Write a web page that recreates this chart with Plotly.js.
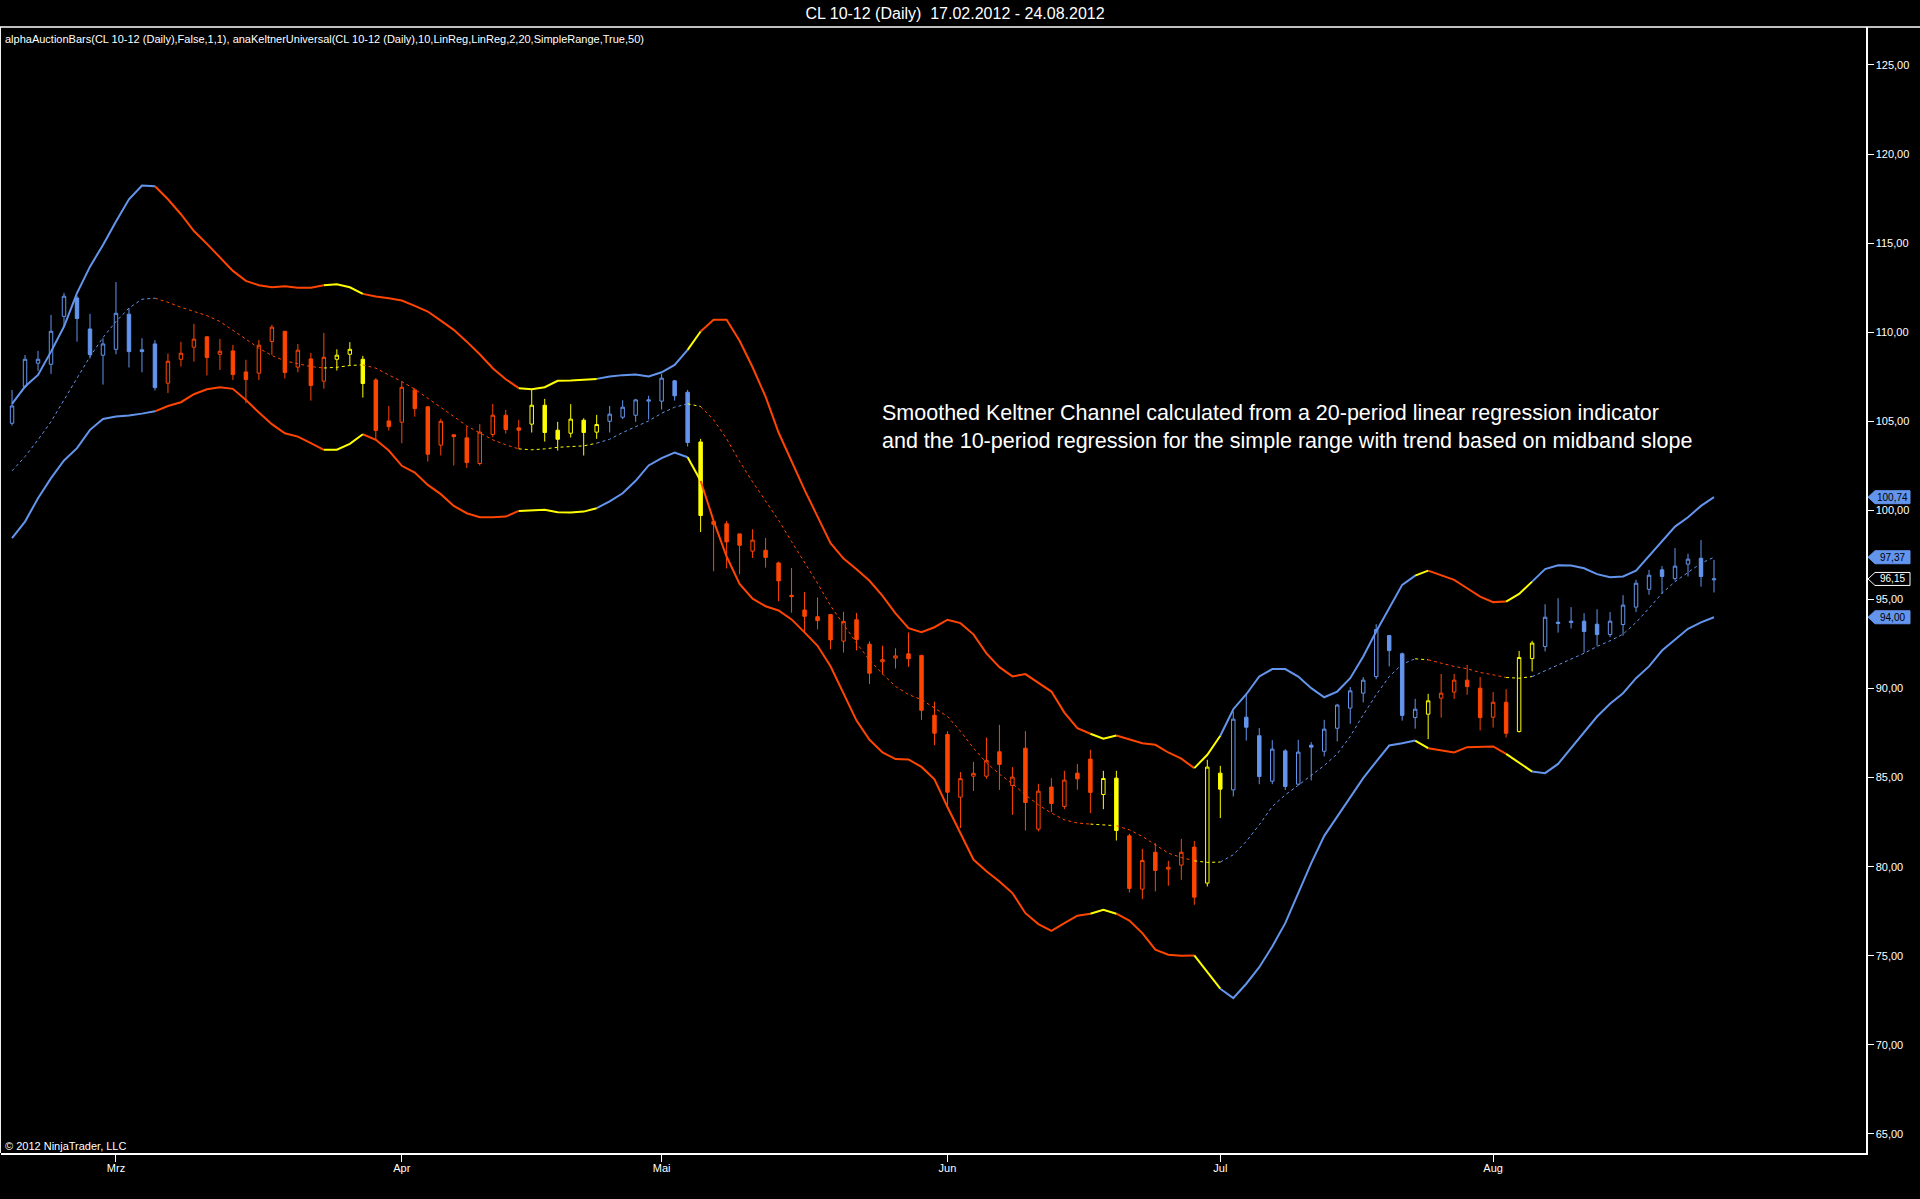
<!DOCTYPE html>
<html>
<head>
<meta charset="utf-8">
<script src="https://cdn.plot.ly/plotly-3.0.1.min.js"></script>
<style>html,body{margin:0;padding:0;background:#000;}#chart{width:1920px;height:1199px;}</style>
</head>
<body>
<div id="chart"></div>
<script>
// ---- trading days (categories) ----
const monthDays = {
  "02": [17,21,22,23,24,27,28,29],
  "03": [1,2,5,6,7,8,9,12,13,14,15,16,19,20,21,22,23,26,27,28,29,30],
  "04": [2,3,4,5,9,10,11,12,13,16,17,18,19,20,23,24,25,26,27,30],
  "05": [1,2,3,4,7,8,9,10,11,14,15,16,17,18,21,22,23,24,25,29,30,31],
  "06": [1,4,5,6,7,8,11,12,13,14,15,18,19,20,21,22,25,26,27,28,29],
  "07": [2,3,5,6,9,10,11,12,13,16,17,18,19,20,23,24,25,26,27,30,31],
  "08": [1,2,3,6,7,8,9,10,13,14,15,16,17,20,21,22,23,24]
};
const dates = [];
Object.keys(monthDays).forEach(m => monthDays[m].forEach(d => dates.push((d<10?"0":"")+d+"."+m+".2012")));

const monthTickVals = ["01.03.2012","02.04.2012","01.05.2012","01.06.2012","02.07.2012","01.08.2012"];
const monthTickText = ["Mrz","Apr","Mai","Jun","Jul","Aug"];

// ---- OHLC ----
const open = [104.89,106.95,108.26,108.20,110.89,111.92,110.18,108.71,109.04,111.01,109.01,109.34,107.14,108.48,109.16,109.74,108.76,108.95,107.77,107.70,109.48,110.05,108.04,108.50,107.25,108.48,108.76,108.48,107.32,105.02,104.95,106.76,105.81,103.66,104.24,104.07,102.63,104.26,105.34,104.63,104.84,105.90,104.50,104.33,105.06,104.39,105.00,105.23,105.34,106.13,106.13,107.27,106.63,103.84,99.37,99.25,98.68,97.71,97.76,97.05,95.23,94.41,94.03,94.15,92.66,93.86,92.49,91.50,91.71,91.95,91.86,88.50,87.42,83.90,85.08,85.08,86.45,84.56,86.65,82.11,84.47,83.38,85.25,86.04,84.05,84.97,81.73,78.74,80.81,79.86,80.09,81.10,79.08,85.25,84.31,88.39,87.35,84.80,86.50,84.63,86.82,86.48,87.77,88.90,89.74,90.67,92.97,91.95,88.37,88.56,89.46,89.80,90.47,90.02,88.39,89.23,87.59,91.68,92.36,93.65,93.70,93.78,93.61,93.03,93.59,94.57,95.57,96.66,96.17,96.98,97.31,96.10];
const high = [106.76,108.72,108.95,110.97,112.21,112.04,111.03,109.66,112.81,111.34,109.66,109.55,108.80,109.46,110.47,109.79,109.62,109.29,108.45,109.57,110.41,110.05,109.34,108.84,109.96,109.04,109.44,108.67,107.42,105.86,107.23,106.86,105.86,105.14,104.27,104.71,104.84,105.98,105.64,105.08,106.76,106.26,104.97,105.96,105.17,105.36,105.86,106.18,106.26,106.43,107.66,107.32,106.76,104.01,99.37,99.41,98.68,98.94,98.45,97.12,96.77,95.42,95.11,94.15,94.31,94.24,92.64,92.40,92.26,93.15,91.86,89.26,87.60,85.31,85.88,87.25,87.96,85.59,87.61,84.65,84.97,85.38,85.77,86.56,85.38,85.38,81.85,81.00,81.32,80.33,81.56,81.45,86.00,85.66,88.71,89.65,87.78,87.10,86.60,87.12,86.99,88.24,89.14,90.08,90.64,93.61,92.99,92.02,89.42,89.70,90.82,90.82,91.33,90.64,89.80,89.96,92.11,92.68,94.73,95.07,94.57,94.23,94.45,94.29,95.24,96.10,96.66,96.87,97.88,97.56,98.33,97.22];
const low = [104.76,106.86,107.83,107.66,110.32,109.47,108.52,107.06,108.76,108.02,107.75,106.73,106.58,108.07,108.35,107.57,107.88,107.32,106.01,107.32,108.73,107.40,107.75,106.16,106.83,107.85,108.15,106.33,103.96,104.48,103.77,105.26,102.74,103.08,102.52,102.37,102.52,104.11,104.31,103.45,104.37,103.86,103.36,104.09,103.08,104.01,104.37,105.12,104.97,105.10,105.66,106.16,103.58,98.78,96.58,96.74,96.41,97.33,96.79,94.90,94.26,93.15,93.32,92.21,92.02,92.14,90.25,90.79,91.12,91.22,88.24,86.82,83.35,82.17,84.25,84.94,84.31,82.91,82.03,81.98,83.06,83.23,84.32,83.01,83.23,81.47,78.55,78.18,78.61,78.93,79.26,77.86,78.89,82.73,83.94,87.08,84.63,84.63,84.31,84.59,84.84,86.19,87.03,88.02,89.22,90.52,91.24,88.20,87.75,87.16,88.37,89.42,89.65,87.65,87.81,87.25,87.53,90.96,92.08,93.14,93.37,92.02,92.40,92.88,92.97,94.29,95.26,95.31,96.06,96.29,95.72,95.39];
const close = [105.86,108.48,108.48,110.05,112.02,110.77,108.74,109.34,111.06,108.91,108.91,106.89,108.37,108.82,109.61,108.58,108.93,107.62,107.34,109.27,110.28,107.74,108.99,107.01,108.59,108.71,109.04,107.12,104.48,104.70,106.91,105.71,103.15,105.00,104.14,102.68,104.39,105.34,104.54,104.50,105.90,104.37,103.99,105.12,104.37,104.82,105.40,105.79,106.20,106.20,107.42,106.43,103.81,99.71,99.22,98.23,98.04,98.33,97.36,96.04,95.16,94.05,93.81,92.73,93.77,92.75,90.86,91.62,91.83,91.67,88.78,87.49,84.18,84.94,85.24,85.97,85.74,85.03,83.60,84.24,83.55,84.86,84.93,84.17,84.95,82.03,78.78,80.35,79.79,79.97,80.81,78.29,85.59,84.35,88.28,87.83,85.06,86.60,84.50,86.43,86.71,87.72,89.07,89.87,90.47,93.31,92.13,88.49,88.84,89.31,89.74,90.47,90.11,88.37,89.23,87.49,91.74,92.55,94.00,93.72,93.78,93.20,93.03,93.78,94.68,95.91,96.36,96.29,96.87,97.26,96.29,96.15];

// ---- Keltner bands ----
const upperBand = [105.98,106.95,107.60,108.91,110.32,112.19,113.68,114.90,116.21,117.46,118.23,118.19,117.46,116.62,115.68,114.96,114.21,113.44,112.88,112.64,112.52,112.58,112.49,112.49,112.64,112.69,112.52,112.15,112.00,111.90,111.78,111.48,111.16,110.65,110.13,109.47,108.76,107.98,107.36,106.86,106.80,106.91,107.27,107.29,107.32,107.38,107.51,107.59,107.62,107.51,107.75,108.16,109.01,110.04,110.70,110.70,109.52,108.03,106.38,104.37,102.75,101.15,99.65,98.16,97.29,96.70,96.05,95.20,94.22,93.39,93.16,93.44,93.86,93.67,93.04,91.97,91.20,90.68,90.81,90.30,89.83,88.65,87.78,87.46,87.18,87.36,87.16,86.93,86.84,86.41,86.06,85.53,86.28,87.35,88.84,89.68,90.68,91.09,91.09,90.67,90.02,89.51,89.83,90.58,91.80,93.20,94.51,95.82,96.34,96.62,96.38,96.10,95.63,95.16,94.85,94.88,95.31,96.00,96.70,96.92,96.90,96.75,96.42,96.25,96.29,96.62,97.45,98.29,99.09,99.61,100.25,100.74];
const midBand = [102.22,103.02,103.96,104.98,106.20,107.42,108.63,109.70,110.60,111.35,111.85,111.91,111.68,111.40,111.16,110.93,110.60,110.13,109.61,109.10,108.69,108.39,108.22,108.07,107.99,108.03,108.13,108.17,107.98,107.60,107.23,106.80,106.30,105.79,105.27,104.74,104.33,103.96,103.68,103.45,103.40,103.45,103.54,103.58,103.62,103.77,103.99,104.37,104.70,105.02,105.45,105.79,105.98,105.83,105.08,104.02,102.75,101.60,100.55,99.45,98.25,97.10,95.90,94.65,93.60,92.55,91.60,90.82,90.12,89.66,89.38,88.90,88.43,87.60,86.66,85.83,85.20,84.65,84.03,83.47,83.01,82.63,82.45,82.39,82.35,82.30,82.07,81.70,81.23,80.76,80.52,80.33,80.24,80.26,80.67,81.42,82.35,83.38,84.03,84.57,85.10,85.68,86.33,87.31,88.52,89.65,90.67,91.37,91.67,91.61,91.42,91.24,91.11,90.90,90.77,90.62,90.58,90.67,90.99,91.33,91.65,91.98,92.36,92.68,93.05,93.71,94.51,95.35,96.00,96.51,97.03,97.37];
const lowerBand = [98.44,99.37,100.68,101.81,102.80,103.49,104.52,105.13,105.27,105.32,105.43,105.56,105.86,106.07,106.52,106.80,106.91,106.82,106.20,105.49,104.84,104.33,104.14,103.77,103.40,103.40,103.73,104.27,103.96,103.36,102.50,102.12,101.43,100.91,100.25,99.84,99.62,99.62,99.65,99.97,99.99,100.03,99.90,99.88,99.93,100.12,100.50,100.96,101.66,102.52,102.93,103.25,102.98,101.66,99.41,97.41,95.87,95.04,94.62,94.38,93.88,93.15,92.40,91.25,89.70,88.20,87.12,86.41,86.04,86.02,85.60,84.90,83.35,81.86,80.40,79.74,79.17,78.52,77.39,76.78,76.40,76.83,77.25,77.36,77.58,77.36,76.98,76.27,75.34,75.06,75.00,75.02,74.06,73.15,72.62,73.43,74.36,75.52,76.83,78.52,80.20,81.73,82.82,83.94,84.97,85.90,86.80,86.93,87.08,86.65,86.52,86.41,86.71,86.71,86.75,86.33,85.85,85.34,85.25,85.77,86.65,87.55,88.43,89.14,89.74,90.58,91.24,92.13,92.73,93.35,93.71,94.00];

// trend per bar: B = rising, O = falling, Y = neutral
const trend = ("BBBBBBBBBBBB" + "OOOOOOOOOOOOO" + "YYY" + "OOOOOOOOOOOO" + "YYYYYY" + "BBBBBBB" + "Y" +
  "OOOOOOOOOOOOOOOOOOOOOOOOOOOOOO" + "YY" + "OOOOOO" + "YY" + "BBBBBBBBBBBBBBB" + "Y" + "OOOOOO" + "YY" + "BBBBBBBBBBBBBB").split("");

const trendColors = { B: "#6495ED", O: "#FF4500", Y: "#FFFF00" };

const N = dates.length;
const traces = [];

function bandSegments(vals, code) {
  const xs = [], ys = [];
  let last = -5;
  for (let i = 1; i < N; i++) {
    if (trend[i] !== code) continue;
    if (last !== i - 1) {
      if (xs.length) { xs.push(null); ys.push(null); }
      xs.push(dates[i - 1]); ys.push(vals[i - 1]);
    }
    xs.push(dates[i]); ys.push(vals[i]);
    last = i;
  }
  return { xs, ys };
}

["B", "O", "Y"].forEach(code => {
  [[upperBand, 2, "solid"], [lowerBand, 2, "solid"], [midBand, 1, "dot"]].forEach(([vals, w, dash]) => {
    const s = bandSegments(vals, code);
    traces.push({
      type: "scatter", mode: "lines", x: s.xs, y: s.ys, connectgaps: false,
      line: { color: trendColors[code], width: w, dash: dash },
      hoverinfo: "skip", showlegend: false
    });
  });
});

["B", "O", "Y"].forEach(code => {
  const idx = [];
  for (let i = 0; i < N; i++) if (trend[i] === code) idx.push(i);
  const c = trendColors[code];
  traces.push({
    type: "candlestick",
    x: idx.map(i => dates[i]),
    open: idx.map(i => open[i]), high: idx.map(i => high[i]),
    low: idx.map(i => low[i]), close: idx.map(i => close[i]),
    increasing: { line: { color: c, width: 1 }, fillcolor: "#000000" },
    decreasing: { line: { color: c, width: 1 }, fillcolor: c },
    whiskerwidth: 0, hoverinfo: "skip", showlegend: false
  });
});

// ---- price flags on the right axis ----
const last = N - 1;
const flagVals = [upperBand[last], midBand[last], close[last], lowerBand[last]];
const flagFill = ["#6495ED", "#6495ED", "#000000", "#6495ED"];
const flagText = ["#000000", "#000000", "#FFFFFF", "#000000"];
const flagBorder = ["#6495ED", "#6495ED", "#FFFFFF", "#6495ED"];

const yMin = 63.93, yMax = 127.13;
const plotW = 1865, plotH = 1126;
const pxY = (yMax - yMin) / plotH;
const px2paperX = p => (p - 1) / plotW;

const shapes = [
  { type: "line", xref: "paper", yref: "paper", x0: -0.001, x1: px2paperX(1921), y0: 1, y1: 1, line: { color: "#FFFFFF", width: 1.5 } },
  { type: "line", xref: "paper", yref: "paper", x0: -0.0003, x1: -0.0003, y0: 0, y1: 1, line: { color: "#FFFFFF", width: 1 } }
];
const annotations = [];
flagVals.forEach((v, k) => {
  const h = 6.5 * pxY;
  const xt = px2paperX(1868), xb = px2paperX(1875), xr = px2paperX(1910);
  shapes.push({
    type: "path", xref: "paper", yref: "y",
    path: `M ${xt} ${v} L ${xb} ${v + h} L ${xr} ${v + h} L ${xr} ${v - h} L ${xb} ${v - h} Z`,
    fillcolor: flagFill[k], line: { color: flagBorder[k], width: 1 }, layer: "above"
  });
  annotations.push({
    xref: "paper", yref: "y", x: (xb + xr) / 2, y: v, xanchor: "center", yanchor: "middle",
    text: v.toFixed(2).replace(".", ","), showarrow: false,
    font: { family: "Liberation Sans, Arial, sans-serif", size: 10, color: flagText[k] }
  });
});

annotations.push({
  xref: "paper", yref: "paper", x: 0.001, y: 1 - 12 / plotH, xanchor: "left", yanchor: "middle", showarrow: false,
  text: "alphaAuctionBars(CL 10-12 (Daily),False,1,1), anaKeltnerUniversal(CL 10-12 (Daily),10,LinReg,LinReg,2,20,SimpleRange,True,50)",
  font: { family: "Liberation Sans Narrow, Arial Narrow, sans-serif", size: 11, color: "#FFFFFF" }
});
annotations.push({
  xref: "paper", yref: "paper", x: 0.001, y: 7 / plotH, xanchor: "left", yanchor: "middle", showarrow: false,
  text: "© 2012 NinjaTrader, LLC",
  font: { family: "Liberation Sans Narrow, Arial Narrow, sans-serif", size: 11, color: "#FFFFFF" }
});
annotations.push({
  xref: "paper", yref: "paper", x: px2paperX(880), y: 1 - (427 - 27) / plotH, xanchor: "left", yanchor: "middle", showarrow: false, align: "left",
  text: "Smoothed Keltner Channel calculated from a 20-period linear regression indicator<br>and the 10-period regression for the simple range with trend based on midband slope",
  font: { family: "Liberation Sans, Arial, sans-serif", size: 21.5, color: "#FFFFFF" }
});

const yTicks = [65, 70, 75, 80, 85, 90, 95, 100, 105, 110, 115, 120, 125];

const layout = {
  width: 1920, height: 1199,
  paper_bgcolor: "#000000", plot_bgcolor: "#000000",
  margin: { l: 1, r: 54, t: 27, b: 46, pad: 0 },
  showlegend: false, hovermode: false,
  boxgap: 0.62,
  title: {
    text: "CL 10-12 (Daily)\u00A0 17.02.2012 - 24.08.2012",
    font: { family: "Liberation Sans, Arial, sans-serif", size: 16, color: "#FFFFFF" },
    xref: "container", yref: "container", x: 955 / 1920, y: 1 - 13 / 1199, xanchor: "center", yanchor: "middle"
  },
  xaxis: {
    type: "category", categoryorder: "array", categoryarray: dates,
    range: [-0.85, 142.7], rangeslider: { visible: false },
    showgrid: false, zeroline: false, showline: true, linecolor: "#FFFFFF", linewidth: 1.5,
    ticks: "outside", ticklen: 7, tickcolor: "#FFFFFF", tickwidth: 1,
    ticklabelstandoff: -3,
    tickmode: "array", tickvals: monthTickVals, ticktext: monthTickText,
    tickfont: { family: "Liberation Sans Narrow, Arial Narrow, sans-serif", size: 11, color: "#FFFFFF" },
    fixedrange: true
  },
  yaxis: {
    side: "right", range: [yMin, yMax],
    showgrid: false, zeroline: false, showline: true, linecolor: "#FFFFFF", linewidth: 1.5,
    ticks: "outside", ticklen: 6, tickcolor: "#FFFFFF", tickwidth: 1,
    tickmode: "array", tickvals: yTicks, ticktext: yTicks.map(v => v.toFixed(2).replace(".", ",")),
    tickfont: { family: "Liberation Sans, Arial, sans-serif", size: 11, color: "#FFFFFF" },
    fixedrange: true
  },
  shapes: shapes,
  annotations: annotations
};

Plotly.newPlot("chart", traces, layout, { displayModeBar: false, staticPlot: true });
</script>
</body>
</html>
